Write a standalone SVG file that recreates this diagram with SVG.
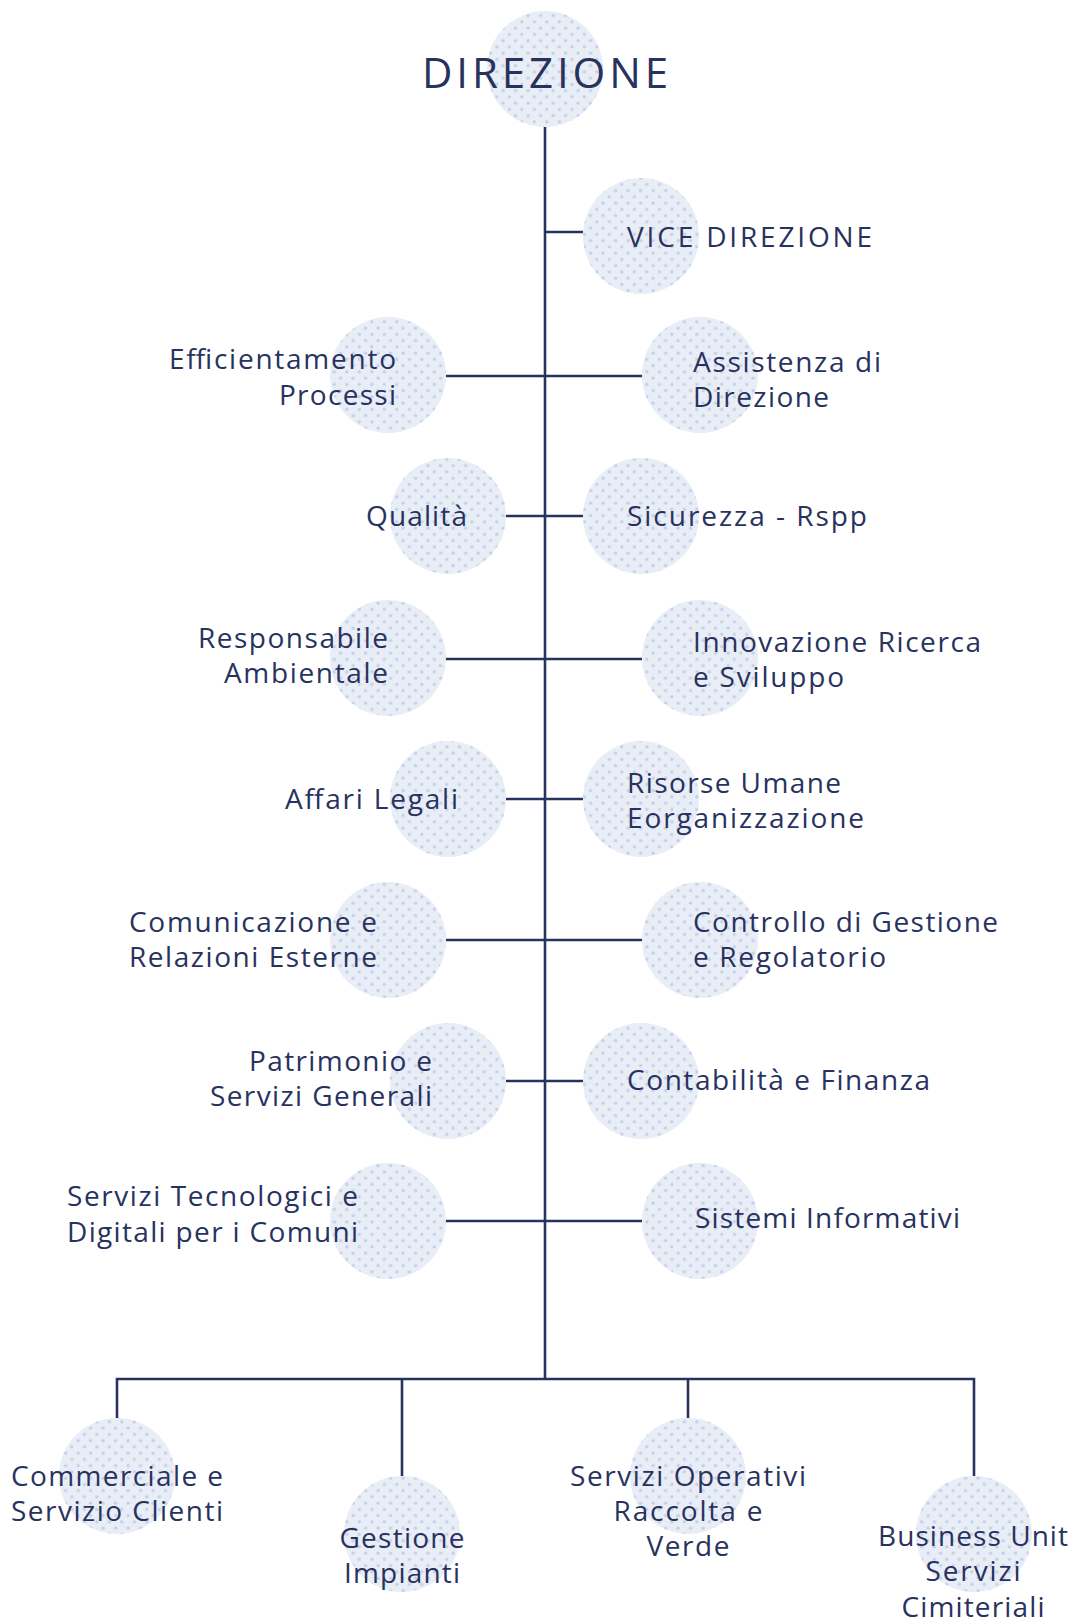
<svg xmlns="http://www.w3.org/2000/svg" width="1078" height="1622" viewBox="0 0 1078 1622">
<defs>
<pattern id="dots" width="12.5" height="12.5" patternUnits="userSpaceOnUse">
<circle cx="3.1" cy="3.1" r="1.75" fill="#c3d1ea"/>
<circle cx="9.35" cy="9.35" r="1.75" fill="#c3d1ea"/>
</pattern>
</defs>
<style>
.c{fill:#e9edf6}
.d{fill:url(#dots)}
.t{font-family:"Open Sans","Noto Sans","Liberation Sans",sans-serif;font-size:28px;fill:#28325e}
.e{text-anchor:end}
.m{text-anchor:middle}
.ln{stroke:#28325e;stroke-width:2.6;fill:none}
</style>
<rect width="1078" height="1622" fill="#ffffff"/>
<g id="connectors" class="ln">
<path d="M545 127V1379"/>
<path d="M545 232H583"/>
<path d="M446 376H642"/>
<path d="M506 516H583"/>
<path d="M446 659H642"/>
<path d="M506 799H583"/>
<path d="M446 940H642"/>
<path d="M506 1081H583"/>
<path d="M446 1221H642"/>
<path d="M117 1418V1379H974V1476"/>
<path d="M402 1379V1476"/>
<path d="M688 1379V1418"/>
</g>
<g id="direzione"><circle class="c" cx="545" cy="69" r="58"/><circle class="d" cx="545" cy="69" r="58"/><text class="t m" x="545" y="88" style="font-size:42px" textLength="246">DIREZIONE</text></g>
<g id="vice-direzione"><circle class="c" cx="641" cy="236" r="58"/><circle class="d" cx="641" cy="236" r="58"/><text class="t" x="627" y="247" textLength="245">VICE DIREZIONE</text></g>
<g id="efficientamento"><circle class="c" cx="388" cy="375" r="58"/><circle class="d" cx="388" cy="375" r="58"/><text class="t e" x="396" y="369" textLength="227">Efficientamento</text><text class="t e" x="396" y="405" textLength="117">Processi</text></g>
<g id="assistenza"><circle class="c" cx="700" cy="375" r="58"/><circle class="d" cx="700" cy="375" r="58"/><text class="t" x="693" y="372" textLength="188">Assistenza di</text><text class="t" x="693" y="407" textLength="136">Direzione</text></g>
<g id="qualita"><circle class="c" cx="448" cy="516" r="58"/><circle class="d" cx="448" cy="516" r="58"/><text class="t e" x="467" y="526" textLength="101">Qualità</text></g>
<g id="sicurezza"><circle class="c" cx="641" cy="516" r="58"/><circle class="d" cx="641" cy="516" r="58"/><text class="t" x="627" y="526" textLength="240">Sicurezza - Rspp</text></g>
<g id="responsabile-ambientale"><circle class="c" cx="388" cy="658" r="58"/><circle class="d" cx="388" cy="658" r="58"/><text class="t e" x="388" y="648" textLength="190">Responsabile</text><text class="t e" x="388" y="683" textLength="164">Ambientale</text></g>
<g id="innovazione"><circle class="c" cx="700" cy="658" r="58"/><circle class="d" cx="700" cy="658" r="58"/><text class="t" x="693" y="652" textLength="288">Innovazione Ricerca</text><text class="t" x="693" y="687" textLength="151">e Sviluppo</text></g>
<g id="affari-legali"><circle class="c" cx="448" cy="799" r="58"/><circle class="d" cx="448" cy="799" r="58"/><text class="t e" x="458" y="809" textLength="173">Affari Legali</text></g>
<g id="risorse-umane"><circle class="c" cx="641" cy="799" r="58"/><circle class="d" cx="641" cy="799" r="58"/><text class="t" x="627" y="793" textLength="214">Risorse Umane</text><text class="t" x="627" y="828" textLength="237">Eorganizzazione</text></g>
<g id="comunicazione"><circle class="c" cx="388" cy="940" r="58"/><circle class="d" cx="388" cy="940" r="58"/><text class="t e" x="377" y="932" textLength="248">Comunicazione e</text><text class="t e" x="377" y="967" textLength="248">Relazioni Esterne</text></g>
<g id="controllo-gestione"><circle class="c" cx="700" cy="940" r="58"/><circle class="d" cx="700" cy="940" r="58"/><text class="t" x="693" y="932" textLength="305">Controllo di Gestione</text><text class="t" x="693" y="967" textLength="193">e Regolatorio</text></g>
<g id="patrimonio"><circle class="c" cx="448" cy="1081" r="58"/><circle class="d" cx="448" cy="1081" r="58"/><text class="t e" x="432" y="1071" textLength="183">Patrimonio e</text><text class="t e" x="432" y="1106" textLength="222">Servizi Generali</text></g>
<g id="contabilita"><circle class="c" cx="641" cy="1081" r="58"/><circle class="d" cx="641" cy="1081" r="58"/><text class="t" x="627" y="1090" textLength="303">Contabilità e Finanza</text></g>
<g id="servizi-tecnologici"><circle class="c" cx="388" cy="1221" r="58"/><circle class="d" cx="388" cy="1221" r="58"/><text class="t e" x="358" y="1206" textLength="291">Servizi Tecnologici e</text><text class="t e" x="358" y="1242" textLength="291">Digitali per i Comuni</text></g>
<g id="sistemi-informativi"><circle class="c" cx="700" cy="1221" r="58"/><circle class="d" cx="700" cy="1221" r="58"/><text class="t" x="695" y="1228" textLength="265">Sistemi Informativi</text></g>
<g id="commerciale"><circle class="c" cx="117" cy="1476" r="58"/><circle class="d" cx="117" cy="1476" r="58"/><text class="t m" x="117" y="1486" textLength="212">Commerciale e</text><text class="t m" x="117" y="1521" textLength="212">Servizio Clienti</text></g>
<g id="gestione-impianti"><circle class="c" cx="402" cy="1534" r="58"/><circle class="d" cx="402" cy="1534" r="58"/><text class="t m" x="402" y="1548" textLength="125">Gestione</text><text class="t m" x="402" y="1583" textLength="116">Impianti</text></g>
<g id="servizi-operativi"><circle class="c" cx="688" cy="1476" r="58"/><circle class="d" cx="688" cy="1476" r="58"/><text class="t m" x="688" y="1486" textLength="236">Servizi Operativi</text><text class="t m" x="688" y="1521" textLength="149">Raccolta e</text><text class="t m" x="688" y="1556" textLength="83">Verde</text></g>
<g id="business-unit"><circle class="c" cx="974" cy="1534" r="58"/><circle class="d" cx="974" cy="1534" r="58"/><text class="t m" x="973" y="1546" textLength="190">Business Unit</text><text class="t m" x="973" y="1581" textLength="95">Servizi</text><text class="t m" x="973" y="1617" textLength="143">Cimiteriali</text></g>
</svg>
